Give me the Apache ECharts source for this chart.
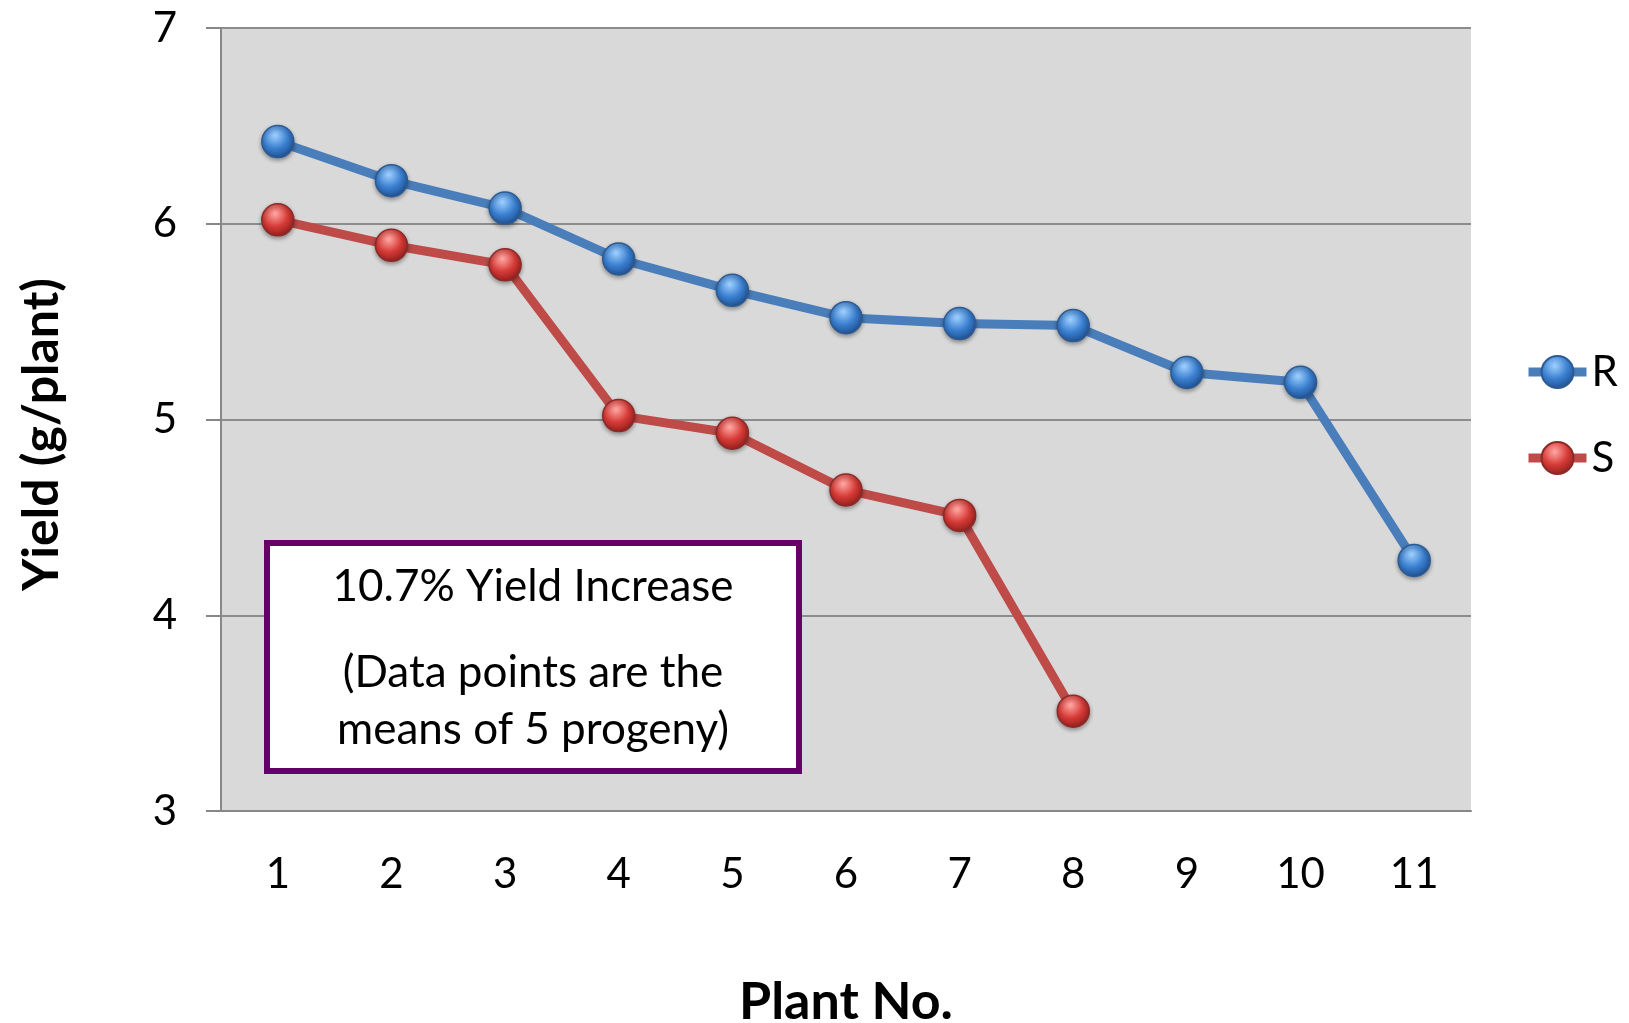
<!DOCTYPE html>
<html><head><meta charset="utf-8">
<script src="https://cdn.jsdelivr.net/npm/echarts@6/dist/echarts.min.js"></script>
<style>html,body{margin:0;padding:0;background:#fff;}#c{width:1629px;height:1023px;}</style>
</head><body><div id="c"></div>
<script>
const categories = ['1','2','3','4','5','6','7','8','9','10','11'];
const seriesR = [6.42, 6.22, 6.08, 5.82, 5.66, 5.52, 5.49, 5.48, 5.24, 5.19, 4.28];
const seriesS = [6.02, 5.89, 5.79, 5.02, 4.93, 4.64, 4.51, 3.51];
const yTicks = [3, 4, 5, 6, 7];
const noteLines = ['10.7% Yield Increase', '(Data points are the', 'means of 5 progeny)'];

const FONT = 'Lato, "Open Sans", sans-serif';
function sphere(light, mid, dark) {
  return { type: 'radial', x: 0.42, y: 0.32, r: 0.7,
    colorStops: [{offset: 0, color: light}, {offset: 0.55, color: mid}, {offset: 1, color: dark}] };
}
const chart = echarts.init(document.getElementById('c'));
chart.setOption({
  backgroundColor: '#ffffff',
  animation: false,
  grid: { left: 221, right: 158, top: 28, bottom: 212, show: true, backgroundColor: '#d9d9d9', borderWidth: 0,
    containLabel: false, outerBoundsMode: 'none' },
  legend: {
    orient: 'vertical', left: 1519, top: 346, itemWidth: 58, itemHeight: 40, itemGap: 44,
    textStyle: { fontFamily: FONT, fontSize: 42, color: '#000' },
    lineStyle: { width: 9 },
    data: ['R', 'S']
  },
  xAxis: {
    type: 'category', data: categories, boundaryGap: true,
    name: 'Plant No.', nameLocation: 'middle', nameGap: 165,
    nameTextStyle: { fontFamily: FONT, fontSize: 52, fontWeight: 'bold', color: '#000' },
    axisLine: { lineStyle: { color: '#878787', width: 2 } },
    axisTick: { alignWithLabel: true, length: 12, lineStyle: { color: '#878787', width: 2 } },
    axisLabel: { fontFamily: FONT, fontSize: 42, color: '#000', margin: 42 },
    splitLine: { show: false }
  },
  yAxis: {
    type: 'value', min: yTicks[0], max: yTicks[yTicks.length - 1], interval: 1,
    name: 'Yield (g/plant)', nameLocation: 'middle', nameGap: 154, nameRotate: 90,
    nameTextStyle: { fontFamily: FONT, fontSize: 50, fontWeight: 'bold', color: '#000', padding: [0, 0, 0, -30] },
    axisLine: { show: true, lineStyle: { color: '#878787', width: 2 } },
    axisTick: { show: true, length: 15, lineStyle: { color: '#878787', width: 2 } },
    axisLabel: { fontFamily: FONT, fontSize: 42, color: '#000', margin: 44 },
    splitLine: { show: true, lineStyle: { color: '#8c8c8c', width: 2 } }
  },
  series: [
    { name: 'R', type: 'line', data: seriesR, symbol: 'circle', symbolSize: 32,
      lineStyle: { color: '#4a7ebb', width: 9 },
      itemStyle: { color: sphere('#9fd0ff', '#3a7fd0', '#1f4f8f'), borderColor: '#2c5a92', borderWidth: 1.5,
        shadowColor: 'rgba(0,0,0,0.35)', shadowBlur: 4, shadowOffsetY: 2 },
      z: 3 },
    { name: 'S', type: 'line', data: seriesS, symbol: 'circle', symbolSize: 32,
      lineStyle: { color: '#be4b48', width: 9 },
      itemStyle: { color: sphere('#ffa8a4', '#d63a36', '#8e1f1c'), borderColor: '#8c2a27', borderWidth: 1.5,
        shadowColor: 'rgba(0,0,0,0.35)', shadowBlur: 4, shadowOffsetY: 2 },
      z: 3 }
  ],
  graphic: [
    { type: 'rect', x: 267, y: 543, z: 10,
      shape: { width: 532, height: 228 },
      style: { fill: '#ffffff', stroke: '#660066', lineWidth: 6 } },
    { type: 'text', z: 11, x: 533, y: 587,
      style: { text: noteLines[0], font: '44px ' + FONT, fill: '#000', textAlign: 'center', textVerticalAlign: 'middle' } },
    { type: 'text', z: 11, x: 533, y: 673,
      style: { text: noteLines[1], font: '44px ' + FONT, fill: '#000', textAlign: 'center', textVerticalAlign: 'middle' } },
    { type: 'text', z: 11, x: 533, y: 730,
      style: { text: noteLines[2], font: '44px ' + FONT, fill: '#000', textAlign: 'center', textVerticalAlign: 'middle' } }
  ]
});
</script></body></html>
